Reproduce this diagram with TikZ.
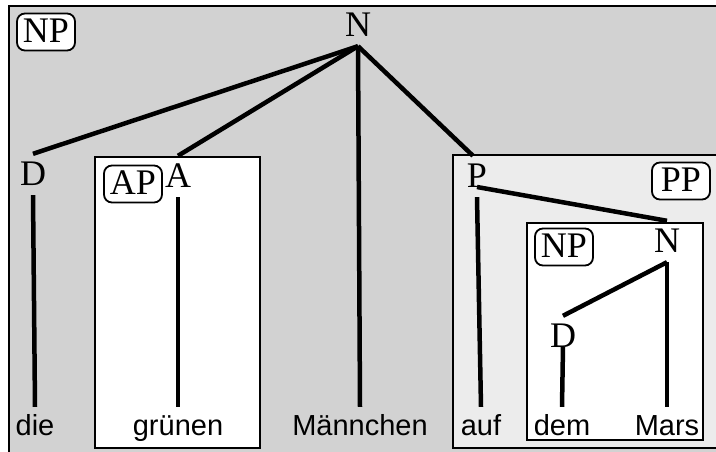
\documentclass[tikz,border=0pt]{standalone}
\usepackage{fontspec}
\setmainfont{Liberation Serif}
\newfontfamily\wordfont{Liberation Sans}
\definecolor{outergray}{RGB}{210,210,210}
\definecolor{innergray}{RGB}{236,236,236}
\begin{document}
\begin{tikzpicture}[x=1pt,y=-1pt,
  cat/.style={font=\fontsize{36}{36}\selectfont, text height=21pt, text depth=0pt,
    inner xsep=0pt, inner ysep=10pt, anchor=base},
  word/.style={font=\wordfont\fontsize{29}{29}\selectfont, text height=21pt, text depth=0pt,
    inner xsep=0pt, inner ysep=7pt, anchor=base},
  tag/.style={draw, line width=1.8pt, fill=white, rounded corners=8pt,
    font=\fontsize{36}{36}\selectfont, text height=21pt, text depth=0pt,
    minimum height=37pt, minimum width=58pt, inner xsep=4pt},
  edge/.style={line width=4.5pt},
  frame/.style={draw=black, line width=2pt}
]
\useasboundingbox (0,0) rectangle (716,451);
\clip (0,0) rectangle (716,451);

% phrase boxes
\draw[frame, fill=outergray] (9,6) rectangle (730,470);
\draw[frame, fill=white] (95,157) rectangle (260,448);
\draw[frame, fill=innergray] (453,155) rectangle (730,448);
\draw[frame, fill=white] (527,223) rectangle (703,440);

% phrase tags
\node[tag] (tNP) at (46,32) {NP};
\node[tag] (tAP) at (133,184) {AP};
\node[tag] (tPP) at (681,181) {PP};
\node[tag] (tNPi) at (564,247) {NP};

% category nodes
\node[cat] (N) at (358,36) {N};
\node[cat] (D) at (33,185) {D};
\node[cat] (A) at (178,187) {A};
\node[cat] (P) at (477,187) {P};
\node[cat] (N2) at (667,252) {N};
\node[cat] (D2) at (563,347) {D};

% words
\node[word] (die) at (35,435) {die};
\node[word] (gruenen) at (178,435) {grünen};
\node[word] (mann) at (360,435) {Männchen};
\node[word] (auf) at (481,435) {auf};
\node[word] (dem) at (562,435) {dem};
\node[word] (mars) at (667,435) {Mars};

% tree edges
\draw[edge] (N.south) -- (D.north);
\draw[edge] (N.south) -- (A.north);
\draw[edge] (N.south) -- (mann.north);
\draw[edge] (N.south) -- ([xshift=-4pt]P.north);
\draw[edge] (P.base) -- (N2.north);
\draw[edge] (N2.south) -- (D2.north);
\draw[edge] (D.south) -- (die.north);
\draw[edge] (A.south) -- (gruenen.north);
\draw[edge] (P.south) -- (auf.north);
\draw[edge] (D2.base) -- (dem.north);
\draw[edge] (N2.south) -- (mars.north);
\end{tikzpicture}
\end{document}
